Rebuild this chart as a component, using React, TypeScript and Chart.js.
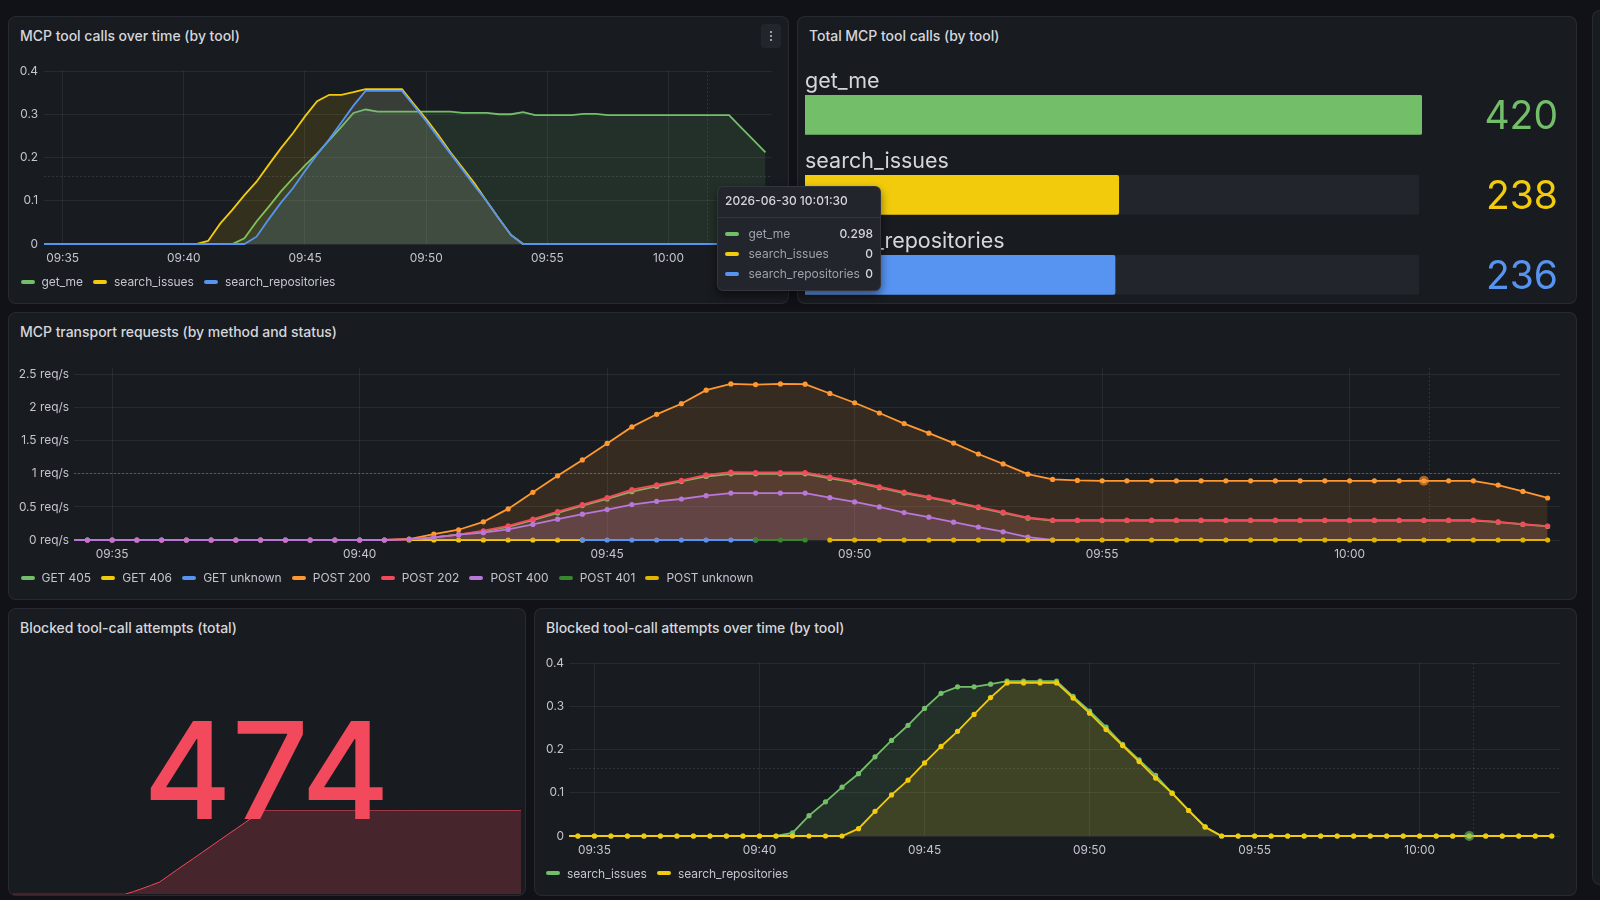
import { useEffect, useRef } from 'react'
import { Chart, registerables } from 'chart.js'

Chart.register(...registerables)
Chart.defaults.font.family = 'Inter'
Chart.defaults.font.size = 11.9
Chart.defaults.color = '#c4c4d0'

const times = [
  '09:34:00','09:34:30','09:35:00','09:35:30','09:36:00','09:36:30','09:37:00','09:37:30','09:38:00','09:38:30',
  '09:39:00','09:39:30','09:40:00','09:40:30','09:41:00','09:41:30','09:42:00','09:42:30','09:43:00','09:43:30',
  '09:44:00','09:44:30','09:45:00','09:45:30','09:46:00','09:46:30','09:47:00','09:47:30','09:48:00','09:48:30',
  '09:49:00','09:49:30','09:50:00','09:50:30','09:51:00','09:51:30','09:52:00','09:52:30','09:53:00','09:53:30',
  '09:54:00','09:54:30','09:55:00','09:55:30','09:56:00','09:56:30','09:57:00','09:57:30','09:58:00','09:58:30',
  '09:59:00','09:59:30','10:00:00','10:00:30','10:01:00','10:01:30','10:02:00','10:02:30','10:03:00','10:03:30','10:04:00',
]
const xTicks = ['09:35:00','09:40:00','09:45:00','09:50:00','09:55:00','10:00:00']
const hoverTime = '10:01:30'
const crosshairTime = '10:01:36'

const getMe = [0,0,0,0,0,0,0,0,0,0,0,0,0,0,0,0,0,.013,.052,.086,.121,.152,.182,.209,.24,.271,.303,.311,.306,.306,.306,.306,.306,.306,.306,.303,.303,.303,.3,.3,.305,.298,.298,.298,.298,.301,.301,.298,.298,.298,.298,.298,.298,.298,.298,.298,.298,.298,.269,.241,.212]
const searchIssues = [0,0,0,0,0,0,0,0,0,0,0,0,0,0,.007,.047,.079,.113,.144,.183,.221,.256,.295,.33,.345,.345,.351,.358,.358,.358,.358,.323,.289,.252,.212,.176,.14,.099,.059,.021,0,0,0,0,0,0,0,0,0,0,0,0,0,0,0,0,0,0,0,0,0]
const searchRepositories = [0,0,0,0,0,0,0,0,0,0,0,0,0,0,0,0,0,0,.017,.057,.095,.129,.169,.207,.242,.281,.32,.354,.354,.354,.354,.319,.284,.246,.209,.172,.134,.099,.059,.021,0,0,0,0,0,0,0,0,0,0,0,0,0,0,0,0,0,0,0,0,0]

const N = null
const get405 = [N,N,N,N,N,N,N,N,N,N,N,N,N,N,.01,.04,.08,.13,.2,.3,.41,.52,.62,.73,.81,.885,.96,1,1,1,1,.93,.87,.79,.71,.64,.57,.49,.41,.33,.295,.295,.295,.295,.295,.295,.295,.295,.295,.295,.295,.295,.295,.295,.295,.295,.295,.295,.27,.235,.205]
const get406 = [N,N,N,N,N,N,N,N,N,N,N,N,N,N,0,0,0,0,0,0,0,0,N,N,N,N,N,N,N,N,N,N,N,N,N,N,N,N,N,N,N,N,N,N,N,N,N,N,N,N,N,N,N,N,N,N,N,N,N,N,N]
const getUnknown = [N,N,N,N,N,N,N,N,N,N,N,N,N,N,N,N,N,N,N,N,N,0,0,0,0,0,0,0,0,N,N,N,N,N,N,N,N,N,N,N,N,N,N,N,N,N,N,N,N,N,N,N,N,N,N,N,N,N,N,N,N]
const post200 = [0,0,0,0,0,0,0,0,0,0,0,0,0,0,.015,.09,.155,.275,.47,.72,.97,1.21,1.46,1.71,1.9,2.06,2.265,2.36,2.35,2.36,2.355,2.215,2.075,1.92,1.76,1.615,1.465,1.3,1.15,.995,.915,.9,.895,.895,.895,.895,.895,.895,.895,.895,.895,.895,.895,.895,.895,.895,.895,.895,.83,.735,.635]
const post202 = [0,0,0,0,0,0,0,0,0,0,0,0,0,0,.01,.04,.08,.14,.215,.315,.43,.535,.64,.76,.835,.9,.985,1.025,1.02,1.02,1.02,.95,.885,.805,.725,.65,.58,.5,.42,.34,.3,.3,.3,.3,.3,.3,.3,.3,.3,.3,.3,.3,.3,.3,.3,.3,.3,.3,.275,.24,.21]
const post400 = [0,0,0,0,0,0,0,0,0,0,0,0,0,0,.01,.04,.08,.11,.16,.235,.315,.39,.46,.535,.585,.62,.67,.71,.71,.71,.71,.64,.575,.5,.415,.345,.27,.195,.125,.045,0,N,N,N,N,N,N,N,N,N,N,N,N,N,N,N,N,N,N,N,N]
const post401 = [N,N,N,N,N,N,N,N,N,N,N,N,N,N,N,N,N,N,N,N,N,N,N,N,N,N,N,N,0,0,0,N,N,N,N,N,N,N,N,N,N,N,N,N,N,N,N,N,N,N,N,N,N,N,N,N,N,N,N,N,N]
const postUnknown = [N,N,N,N,N,N,N,N,N,N,N,N,N,N,N,N,N,N,N,N,N,N,N,N,N,N,N,N,N,N,N,0,0,0,0,0,0,0,0,0,0,0,0,0,0,0,0,0,0,0,0,0,0,0,0,0,0,0,0,0,0]

const blockedTotal = [0,0,0,0,0,0,0,0,0,0,0,0,0,0,0,15,32,50,68,102,136,170,203,237,271,305,339,372,406,440,474,474,474,474,474,474,474,474,474,474,474,474,474,474,474,474,474,474,474,474,474,474,474,474,474,474,474,474,474,474,474]

const toolTicks = [0, 0.1, 0.2, 0.3, 0.4]
const reqTicks = [0, 0.5, 1, 1.5, 2, 2.5]
const gaugeNames = ['get_me', 'search_issues', 'search_repositories']
const gaugeValues = [420, 238, 236]
const gaugeFill = [1.005, 0.511, 0.505]
const tooltipRows = [['get_me', '0.298'], ['search_issues', '0'], ['search_repositories', '0']]

const GREEN = '#73BF69'
const YELLOW = '#F2CC0C'
const BLUE = '#5794F2'
const ORANGE = '#FF9830'
const RED = '#F2495C'
const PURPLE = '#B877D9'
const DARKGREEN = '#37872D'
const DARKYELLOW = '#E0B400'
const GRID = 'rgba(240,250,255,0.07)'

const toMin = (t: string) => {
  const [h, m, s] = t.split(':').map(Number)
  return h * 60 + m + s / 60
}
const fmt = (v: number) => {
  const m = Math.round(v)
  return String(Math.floor(m / 60)).padStart(2, '0') + ':' + String(m % 60).padStart(2, '0')
}
const xy = (vals: (number | null)[]) => vals.map((y, i) => ({ x: toMin(times[i]), y }))
const fade = (hex: string, a: number) => {
  const n = parseInt(hex.slice(1), 16)
  return `rgba(${n >> 16},${(n >> 8) & 255},${n & 255},${a})`
}

type S = { label: string, color: string, data: (number | null)[], fill?: boolean }

function TimeChart({ box, plot, series, ticks, yMax, yFmt, yPad, points, threshold, thresholdAlpha, hover }: any) {
  const ref = useRef<HTMLCanvasElement | null>(null)
  useEffect(() => {
    if (!ref.current) return
    const datasets: any[] = series.map((s: S, i: number) => ({
      label: s.label,
      data: xy(s.data),
      borderColor: s.color,
      backgroundColor: s.fill ? fade(s.color, 0.13) : 'transparent',
      borderWidth: 1.8,
      fill: s.fill ? 'origin' : false,
      pointRadius: points ? 2.6 : 0,
      pointBackgroundColor: s.color,
      pointBorderWidth: 0,
      tension: 0,
      spanGaps: false,
      order: 100 - i,
      clip: { left: 0, right: 6, top: 6, bottom: 6 },
    }))
    if (hover) {
      datasets.push({
        data: [{ x: toMin(hoverTime), y: hover.y }],
        showLine: false,
        pointRadius: 5,
        pointBackgroundColor: fade(hover.color, 0.6),
        pointBorderWidth: 0,
        order: 1,
        clip: false,
      })
    }
    const markers = {
      id: 'markers',
      beforeDatasetsDraw(c: any) {
        const { ctx, chartArea: a, scales } = c
        ctx.save()
        ctx.setLineDash([2, 2])
        ctx.lineWidth = 1
        const x = Math.round(scales.x.getPixelForValue(toMin(crosshairTime))) + 0.5
        const y = Math.round(scales.y.getPixelForValue(threshold)) + 0.5
        ctx.strokeStyle = 'rgba(204,204,220,0.13)'
        ctx.beginPath()
        ctx.moveTo(x, a.top)
        ctx.lineTo(x, a.bottom)
        ctx.stroke()
        ctx.strokeStyle = `rgba(204,204,220,${thresholdAlpha})`
        ctx.beginPath()
        ctx.moveTo(a.left, y)
        ctx.lineTo(a.right, y)
        ctx.stroke()
        ctx.restore()
      },
    }
    const chart = new Chart(ref.current, {
      type: 'line',
      data: { datasets },
      plugins: [markers],
      options: {
        animation: false,
        responsive: false,
        events: [],
        layout: { padding: { left: 0, top: plot.t - box.y, right: box.x + box.w - plot.r, bottom: 0 } },
        plugins: { legend: { display: false }, tooltip: { enabled: false } },
        scales: {
          x: {
            type: 'linear',
            min: 574.23,
            max: 604.25,
            grid: { color: GRID, drawTicks: false },
            border: { display: false },
            afterBuildTicks: (s: any) => { s.ticks = xTicks.map(t => ({ value: toMin(t) })) },
            afterFit: (s: any) => { s.height = box.y + box.h - plot.b },
            ticks: { autoSkip: false, maxRotation: 0, padding: 7, callback: (v: any) => fmt(v) },
          },
          y: {
            min: 0,
            max: yMax,
            grid: { color: GRID, drawTicks: false },
            border: { display: false },
            afterBuildTicks: (s: any) => { s.ticks = ticks.map((value: number) => ({ value })) },
            afterFit: (s: any) => { s.width = plot.l - box.x },
            ticks: { autoSkip: false, padding: yPad, callback: (v: any) => yFmt(v) },
          },
        },
      },
    } as any)
    return () => chart.destroy()
  }, [])
  return <canvas ref={ref} width={box.w} height={box.h} style={{ position: 'absolute', left: box.x, top: box.y }} />
}

function GaugeChart({ box, plot }: any) {
  const ref = useRef<HTMLCanvasElement | null>(null)
  useEffect(() => {
    if (!ref.current) return
    const chart = new Chart(ref.current, {
      type: 'bar',
      data: {
        labels: gaugeNames,
        datasets: [
          {
            data: gaugeFill,
            backgroundColor: [GREEN, YELLOW, BLUE],
            grouped: false,
            barThickness: 39,
            borderRadius: 2,
            order: 1,
          },
          {
            data: gaugeNames.map(() => 1),
            backgroundColor: '#22252b',
            grouped: false,
            barThickness: 39,
            borderRadius: 2,
            order: 2,
          },
        ],
      },
      options: {
        indexAxis: 'y',
        animation: false,
        responsive: false,
        events: [],
        layout: { padding: { left: plot.l - box.x, top: plot.t - box.y, right: box.x + box.w - plot.r, bottom: box.y + box.h - plot.b } },
        plugins: { legend: { display: false }, tooltip: { enabled: false } },
        scales: {
          x: { display: false, min: 0, max: 1.005 },
          y: { display: false },
        },
      },
    } as any)
    return () => chart.destroy()
  }, [])
  return <canvas ref={ref} width={box.w} height={box.h} style={{ position: 'absolute', left: box.x, top: box.y }} />
}

function Sparkline({ box, plot }: any) {
  const ref = useRef<HTMLCanvasElement | null>(null)
  useEffect(() => {
    if (!ref.current) return
    const chart = new Chart(ref.current, {
      type: 'line',
      data: {
        datasets: [{
          data: xy(blockedTotal),
          borderColor: RED,
          backgroundColor: fade(RED, 0.22),
          borderWidth: 1,
          fill: 'origin',
          pointRadius: 0,
          tension: 0,
        }],
      },
      options: {
        animation: false,
        responsive: false,
        events: [],
        layout: { padding: { left: plot.l - box.x, top: plot.t - box.y, right: box.x + box.w - plot.r, bottom: box.y + box.h - plot.b } },
        plugins: { legend: { display: false }, tooltip: { enabled: false } },
        scales: {
          x: { type: 'linear', display: false, min: toMin('09:34:30'), max: toMin('10:04:00') },
          y: { display: false, min: 0, max: 474 },
        },
      },
    } as any)
    return () => chart.destroy()
  }, [])
  return <canvas ref={ref} width={box.w} height={box.h} style={{ position: 'absolute', left: box.x, top: box.y }} />
}

function Panel({ x, y, w, h }: any) {
  return (
    <div style={{
      position: 'absolute', left: x, top: y, width: w, height: h, boxSizing: 'border-box',
      background: '#181b1f', border: '1px solid rgba(204,204,220,0.09)', borderRadius: 8,
    }} />
  )
}

function Title({ x, y, text }: any) {
  return (
    <div style={{
      position: 'absolute', left: x, top: y - 10, height: 20, lineHeight: '20px', whiteSpace: 'nowrap',
      fontSize: 14, fontWeight: 500, letterSpacing: -0.03, color: '#d5d6dc',
    }}>{text}</div>
  )
}

function Legend({ x, y, items }: any) {
  return (
    <div style={{
      position: 'absolute', left: x, top: y - 10, height: 20, display: 'flex', alignItems: 'center',
      gap: 10.2, fontSize: 12, letterSpacing: -0.05, color: '#c4c4d0', whiteSpace: 'nowrap',
    }}>
      {items.map((s: S) => (
        <div key={s.label} style={{ display: 'flex', alignItems: 'center', gap: 7 }}>
          <div style={{ width: 14, height: 4, borderRadius: 2, background: s.color }} />
          {s.label}
        </div>
      ))}
    </div>
  )
}

function Tooltip() {
  const colors = [GREEN, YELLOW, BLUE]
  return (
    <div style={{
      position: 'absolute', left: 717, top: 186, width: 164, height: 105, boxSizing: 'border-box',
      background: '#22252b', border: '1px solid rgba(204,204,220,0.1)', borderRadius: 6,
      boxShadow: '0 4px 10px rgba(0,0,0,0.5)', fontSize: 12,
    }}>
      <div style={{ position: 'absolute', left: 7, top: 4, lineHeight: '20px', fontWeight: 500, color: '#d5d6dc', whiteSpace: 'nowrap' }}>2026-06-30 10:01:30</div>
      <div style={{ position: 'absolute', left: 0, right: 0, top: 30, height: 1, background: 'rgba(204,204,220,0.1)' }} />
      {tooltipRows.map((r, i) => (
        <div key={r[0]}>
          <div style={{ position: 'absolute', left: 7, top: 44.5 + i * 20.3, width: 14, height: 4, borderRadius: 2, background: colors[i] }} />
          <div style={{ position: 'absolute', left: 30.5, top: 36.5 + i * 20.3, lineHeight: '20px', color: '#a0a2ab', whiteSpace: 'nowrap' }}>{r[0]}</div>
          <div style={{ position: 'absolute', right: 7, top: 36.5 + i * 20.3, lineHeight: '20px', color: '#d5d6dc', fontWeight: 500 }}>{r[1]}</div>
        </div>
      ))}
    </div>
  )
}

const toolSeries: S[] = [
  { label: 'get_me', color: GREEN, data: getMe, fill: true },
  { label: 'search_issues', color: YELLOW, data: searchIssues, fill: true },
  { label: 'search_repositories', color: BLUE, data: searchRepositories, fill: true },
]
const transportSeries: S[] = [
  { label: 'GET 405', color: GREEN, data: get405, fill: true },
  { label: 'GET 406', color: YELLOW, data: get406 },
  { label: 'GET unknown', color: BLUE, data: getUnknown },
  { label: 'POST 200', color: ORANGE, data: post200, fill: true },
  { label: 'POST 202', color: RED, data: post202, fill: true },
  { label: 'POST 400', color: PURPLE, data: post400, fill: true },
  { label: 'POST 401', color: DARKGREEN, data: post401 },
  { label: 'POST unknown', color: DARKYELLOW, data: postUnknown },
]
const blockedSeries: S[] = [
  { label: 'search_issues', color: GREEN, data: searchIssues, fill: true },
  { label: 'search_repositories', color: YELLOW, data: searchRepositories, fill: true },
]

export default function App() {
  return (
    <div style={{ position: 'fixed', left: 0, top: 0, width: 1600, height: 900, overflow: 'hidden', background: '#111217', fontFamily: 'Inter' }}>
      <div style={{ position: 'absolute', left: 1592, top: 10, width: 40, height: 875, boxSizing: 'border-box', background: '#181b1f', border: '1px solid rgba(204,204,220,0.09)', borderRadius: 8 }} />
      <Panel x={8} y={16} w={780.5} h={287.5} />
      <Panel x={797} y={16} w={780} h={287.5} />
      <Panel x={8} y={312} w={1569} h={287.5} />
      <Panel x={8} y={608} w={518} h={288} />
      <Panel x={534} y={608} w={1043} h={288} />

      <Title x={20} y={35.5} text="MCP tool calls over time (by tool)" />
      <Title x={809} y={35.5} text="Total MCP tool calls (by tool)" />
      <Title x={20} y={332} text="MCP transport requests (by method and status)" />
      <Title x={20} y={628} text="Blocked tool-call attempts (total)" />
      <Title x={546} y={628} text="Blocked tool-call attempts over time (by tool)" />

      <div style={{ position: 'absolute', left: 761, top: 24, width: 20, height: 24, borderRadius: 4, background: '#22252b' }}>
        {[0, 1, 2].map(i => <div key={i} style={{ position: 'absolute', left: 9, top: 7 + i * 4, width: 2, height: 2, borderRadius: 1, background: '#c4c4d0' }} />)}
      </div>

      <TimeChart
        box={{ x: 8, y: 16, w: 780, h: 288 }}
        plot={{ l: 44, t: 71, r: 771.5, b: 244 }}
        series={toolSeries}
        ticks={toolTicks}
        yMax={0.4}
        yFmt={(v: number) => String(v)}
        yPad={6}
        threshold={0.158}
        thresholdAlpha={0.14}
      />
      <Legend x={20.5} y={281.5} items={toolSeries} />

      <GaugeChart box={{ x: 797, y: 16, w: 780, h: 300 }} plot={{ l: 805, t: 74.8, r: 1422, b: 314.8 }} />
      {gaugeNames.map((name, i) => (
        <div key={name} style={{ position: 'absolute', left: 805, top: 80 - 15 + i * 80, height: 30, lineHeight: '30px', fontSize: 21.5, color: '#d5d6dc', whiteSpace: 'nowrap' }}>{name}</div>
      ))}
      {gaugeValues.map((v, i) => (
        <div key={v} style={{ position: 'absolute', right: 1600 - 1558, top: 114.5 - 25 + i * 80.4, height: 50, lineHeight: '50px', fontSize: 39, color: [GREEN, YELLOW, BLUE][i] }}>{v}</div>
      ))}

      <TimeChart
        box={{ x: 8, y: 312, w: 1569, h: 288 }}
        plot={{ l: 74, t: 368, r: 1560, b: 540 }}
        series={transportSeries}
        ticks={reqTicks}
        yMax={2.6}
        yFmt={(v: number) => v + ' req/s'}
        yPad={5}
        points
        threshold={1.018}
        thresholdAlpha={0.28}
        hover={{ y: 0.895, color: ORANGE }}
      />
      <Legend x={20.5} y={577.5} items={transportSeries} />

      <Sparkline box={{ x: 8, y: 780, w: 518, h: 116 }} plot={{ l: 12.8, t: 810.3, r: 521, b: 894.3 }} />
      <div style={{ position: 'absolute', left: 8, top: 690, width: 517, height: 160, lineHeight: '160px', textAlign: 'center', fontSize: 135, fontWeight: 500, color: RED }}>474</div>

      <TimeChart
        box={{ x: 534, y: 608, w: 1043, h: 288 }}
        plot={{ l: 569, t: 663, r: 1560, b: 836 }}
        series={blockedSeries}
        ticks={toolTicks}
        yMax={0.4}
        yFmt={(v: number) => String(v)}
        yPad={5}
        points
        threshold={0.157}
        thresholdAlpha={0.14}
        hover={{ y: 0, color: GREEN }}
      />
      <Legend x={546} y={873} items={blockedSeries} />

      <Tooltip />
    </div>
  )
}
